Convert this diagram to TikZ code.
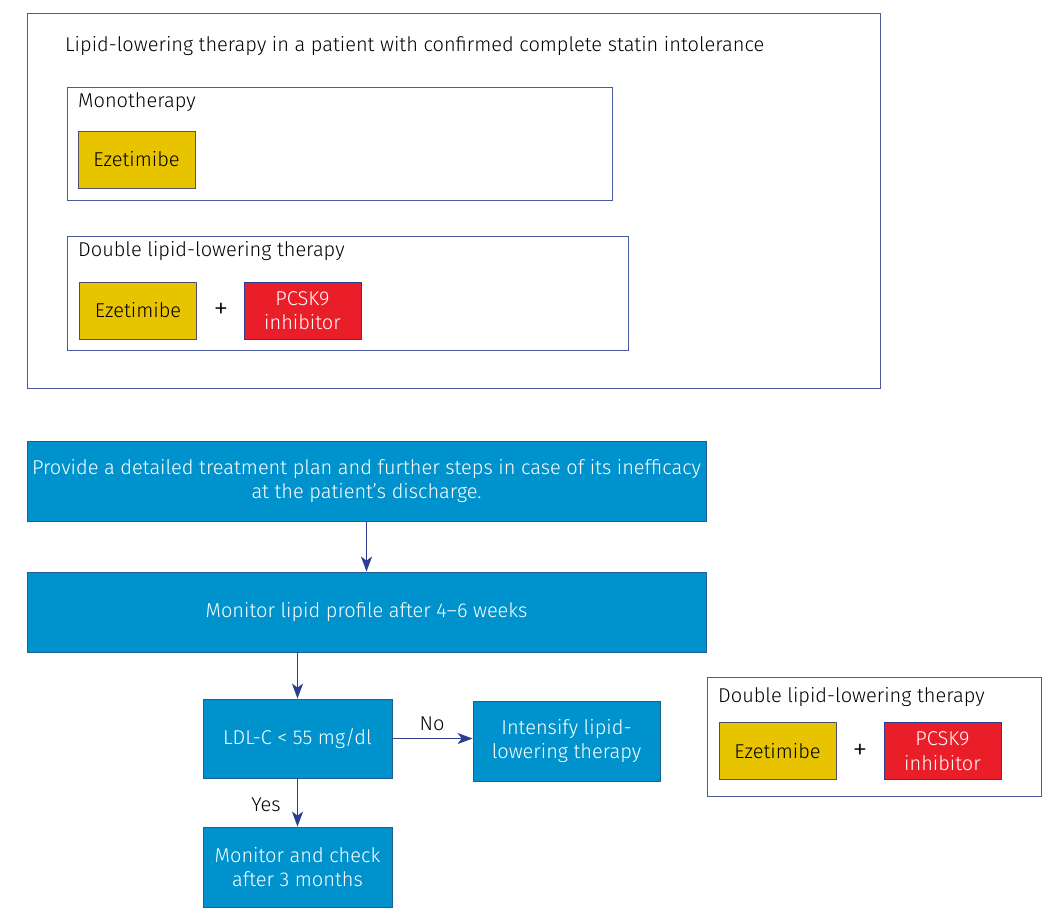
\documentclass[tikz,border=0pt]{standalone}
\usepackage{fontspec}
\setmainfont{Fira Sans}[UprightFont = * Light]
\usetikzlibrary{arrows.meta}
\definecolor{flowblue}{RGB}{0,146,204}
\definecolor{flowedge}{RGB}{30,95,150}
\definecolor{navy}{RGB}{46,61,143}
\definecolor{framec}{RGB}{74,90,160}
\definecolor{ezeyellow}{RGB}{232,196,0}
\definecolor{pcskred}{RGB}{234,30,40}
\definecolor{ezeedge}{RGB}{80,80,110}
\tikzset{
  framebox/.style={draw=framec, line width=1pt, rectangle, inner sep=0pt},
  flowbox/.style={draw=flowedge, fill=flowblue, line width=0.8pt, text=white, align=center, inner sep=0pt},
  ezebox/.style={draw=ezeedge, fill=ezeyellow, line width=1pt, text=black, align=center, inner sep=0pt, minimum width=117pt, minimum height=57pt},
  pcskbox/.style={draw=navy, fill=pcskred, line width=1pt, text=white, align=center, inner sep=0pt, minimum width=117pt, minimum height=57pt},
  lbl/.style={anchor=west, inner sep=0pt, text=black},
  plussign/.style={inner sep=0pt, font=\fontsize{30}{30}\selectfont},
  flowarrow/.style={draw=navy, line width=1.3pt, -{Stealth[length=15pt,width=11pt,inset=4pt]}}
}
\begin{document}
\begin{tikzpicture}[x=1pt,y=-1pt, font=\fontsize{20}{24.5}\selectfont]
\useasboundingbox[fill=white] (0,0) rectangle (1056,914);
% top frame
\node[framebox, minimum width=853pt, minimum height=375pt] (outer) at (453.5,200.5) {};
\node[lbl] (title) at (65,46) {Lipid-lowering therapy in a patient with confirmed complete statin intolerance};
\node[framebox, minimum width=545pt, minimum height=113pt] (mono) at (339.5,143.5) {};
\node[lbl] (monolbl) at (78,102) {Monotherapy};
\node[ezebox] (eze1) at (136.5,159.5) {Ezetimibe};
\node[framebox, minimum width=561pt, minimum height=114pt] (dbl) at (347.5,293) {};
\node[lbl] (dbllbl) at (78,251) {Double lipid-lowering therapy};
\node[ezebox] (eze2) at (138,310.5) {Ezetimibe};
\node[plussign] (plus1) at (221,311) {+};
\node[pcskbox] (pcsk1) at (302.5,310.5) {PCSK9\\inhibitor};
% flow
\node[flowbox, minimum width=679pt, minimum height=80pt] (plan) at (366.5,481) {Provide a detailed treatment plan and further steps in case of its inefficacy\\at the patient’s discharge.};
\node[flowbox, minimum width=679pt, minimum height=80pt] (mon) at (366.5,612) {Monitor lipid profile after 4–6 weeks};
\node[flowbox, minimum width=189pt, minimum height=79pt] (ldl) at (297.5,738.5) {LDL-C < 55 mg/dl};
\node[flowbox, minimum width=187pt, minimum height=80pt] (intens) at (566.5,741) {Intensify lipid-\\lowering therapy};
\node[flowbox, minimum width=189pt, minimum height=80pt] (check) at (297.5,867) {Monitor and check\\after 3 months};
\draw[flowarrow] (plan.south) -- (mon.north);
\draw[flowarrow] (ldl.north |- mon.south) -- (ldl.north);
\draw[flowarrow] (ldl.east) -- (ldl.east -| intens.west);
\draw[flowarrow] (ldl.south) -- (check.north);
\node (no) at (432,724) {No};
\node (yes) at (266,805) {Yes};
% right frame
\node[framebox, minimum width=334pt, minimum height=119pt] (dbl2) at (874,736.5) {};
\node[lbl] (dbl2lbl) at (718,697) {Double lipid-lowering therapy};
\node[ezebox] (eze3) at (777.5,751) {Ezetimibe};
\node[plussign] (plus2) at (860,752) {+};
\node[pcskbox] (pcsk2) at (942.5,751) {PCSK9\\inhibitor};
\end{tikzpicture}
\end{document}
